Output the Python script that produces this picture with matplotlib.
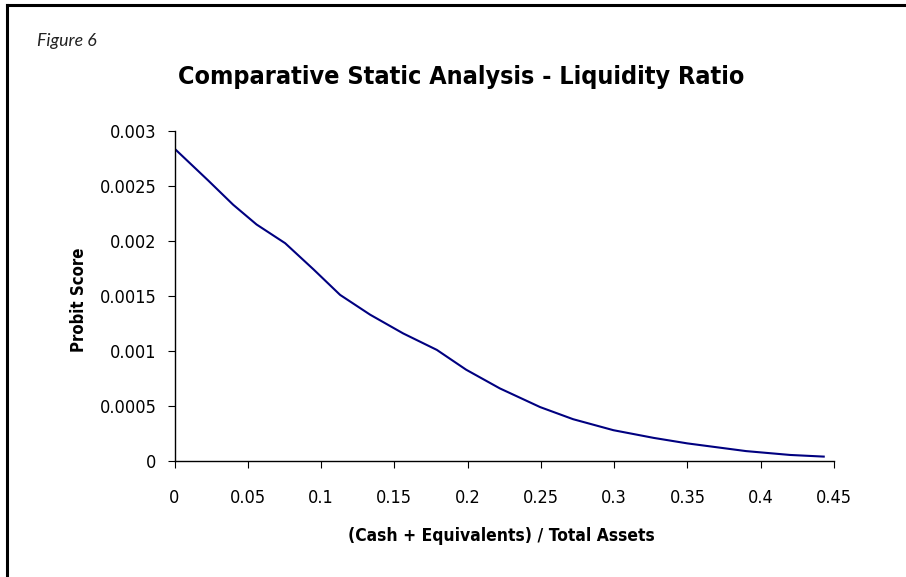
import matplotlib
matplotlib.use("Agg")
import matplotlib.pyplot as plt
from matplotlib import font_manager
from matplotlib.lines import Line2D

# ---- data ----
liquidity_ratio = [0.0, 0.023, 0.040, 0.056, 0.0755, 0.095, 0.113, 0.1335, 0.156,
                   0.179, 0.199, 0.222, 0.2495, 0.272, 0.2995, 0.327, 0.350,
                   0.390, 0.420, 0.443]
probit_score = [0.00284, 0.00255, 0.00233, 0.00215, 0.00198, 0.00174, 0.00151,
                0.00133, 0.00116, 0.00101, 0.00083, 0.00066, 0.00049, 0.00038,
                0.00028, 0.00021, 0.00016, 0.00009, 0.000055, 0.00004]
x_ticks = [0, 0.05, 0.1, 0.15, 0.2, 0.25, 0.3, 0.35, 0.4, 0.45]
x_tick_labels = ["0", "0.05", "0.1", "0.15", "0.2", "0.25", "0.3", "0.35", "0.4", "0.45"]
y_ticks = [0, 0.0005, 0.001, 0.0015, 0.002, 0.0025, 0.003]
y_tick_labels = ["0", "0.0005", "0.001", "0.0015", "0.002", "0.0025", "0.003"]

title = "Comparative Static Analysis - Liquidity Ratio"
fig_label = "Figure 6"
x_label = "(Cash + Equivalents) / Total Assets"
y_label = "Probit Score"

installed = {f.name for f in font_manager.fontManager.ttflist}
narrow = "Liberation Sans Narrow" if "Liberation Sans Narrow" in installed else "DejaVu Sans"
narrow_kw = {"family": narrow}
if narrow == "DejaVu Sans":
    narrow_kw["stretch"] = "condensed"
italic_family = "Lato" if "Lato" in installed else "DejaVu Sans"

W, H = 906, 577
fig = plt.figure(figsize=(W / 100, H / 100), dpi=100)
fig.patch.set_facecolor("white")

# axes placement (pixel coordinates from reference)
left, right, top, bottom = 174.5, 834, 131, 461
ax = fig.add_axes([left / W, 1 - bottom / H, (right - left) / W, (bottom - top) / H])

ax.plot(liquidity_ratio, probit_score, color="#000080", linewidth=1.5,
        solid_joinstyle="round")

ax.set_xlim(0, 0.45)
ax.set_ylim(0, 0.003)
ax.set_xticks(x_ticks)
ax.set_xticklabels(x_tick_labels)
ax.set_yticks(y_ticks)
ax.set_yticklabels(y_tick_labels)

for s in ["top", "right"]:
    ax.spines[s].set_visible(False)
for s in ["left", "bottom"]:
    ax.spines[s].set_linewidth(1.0)
    ax.spines[s].set_color("black")

ax.tick_params(axis="both", direction="out", length=5, width=0.8, color="black")
ax.tick_params(axis="x", pad=15)
ax.tick_params(axis="y", pad=8)
for lab in ax.get_xticklabels() + ax.get_yticklabels():
    lab.set_fontsize(13)
    lab.set_fontfamily(narrow)
    if narrow == "DejaVu Sans":
        lab.set_fontstretch("condensed")

# texts
fig.text(37 / W, 1 - 46 / H, fig_label, family=italic_family, style="italic",
         fontsize=12.8, ha="left", va="baseline", color="#222222")
fig.text(461 / W, 1 - 84 / H, title, fontsize=18, fontweight="bold",
         ha="center", va="baseline", **narrow_kw)
fig.text(501 / W, 1 - 541 / H, x_label, fontsize=12.5, fontweight="bold",
         ha="center", va="baseline", **narrow_kw)
fig.text(79 / W, 1 - 300 / H, y_label, fontsize=12, fontweight="bold",
         rotation=90, ha="center", va="center", **narrow_kw)

# frame: top and left border
fig.add_artist(Line2D([7 / W, 1.0], [1 - 5 / H, 1 - 5 / H], transform=fig.transFigure,
                      color="black", linewidth=2.2))
fig.add_artist(Line2D([7 / W, 7 / W], [1 - 5 / H, 0.0], transform=fig.transFigure,
                      color="black", linewidth=2.2))

fig.savefig("out.png", dpi=100)
